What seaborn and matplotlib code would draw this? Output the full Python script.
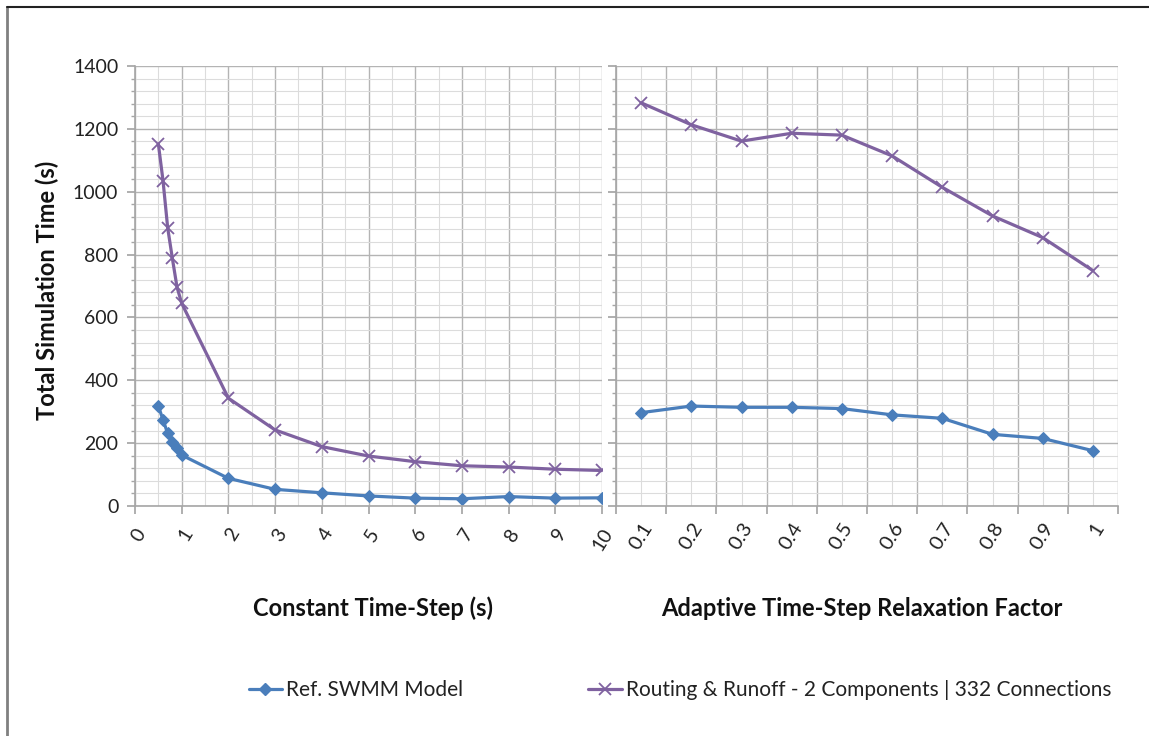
import numpy as np
import pandas as pd
import matplotlib
matplotlib.use('Agg')
import matplotlib.pyplot as plt
from matplotlib.lines import Line2D
from matplotlib.ticker import MultipleLocator
import seaborn as sns

# constant time-step panel
const_dt = [0.5, 0.6, 0.7, 0.8, 0.9, 1, 2, 3, 4, 5, 6, 7, 8, 9, 10]
ref_const = [318, 274, 231, 205, 183, 162, 88, 53, 42, 32, 25, 23, 30, 25, 26]
rr_const = [1152, 1035, 885, 788, 696, 645, 343, 242, 189, 159, 141, 128, 124, 117, 113]

# adaptive time-step panel
relax = ['0.1', '0.2', '0.3', '0.4', '0.5', '0.6', '0.7', '0.8', '0.9', '1']
ref_adapt = [297, 318, 314, 314, 310, 290, 279, 228, 215, 176]
rr_adapt = [1283, 1213, 1161, 1186, 1180, 1114, 1014, 923, 854, 749]

ref_name = 'Ref. SWMM Model'
rr_name = 'Routing & Runoff - 2 Components | 332 Connections'
blue = '#4a7ebb'
purple = '#7f62a0'

sns.set_theme(style='white')
plt.rcParams['font.family'] = ['Lato', 'DejaVu Sans']

W, H = 1149, 736
fig = plt.figure(figsize=(W / 100, H / 100), dpi=100)
ax1 = fig.add_axes([135 / W, 1 - 506 / H, 467 / W, 440 / H])
ax2 = fig.add_axes([616 / W, 1 - 506 / H, 502 / W, 440 / H], sharey=ax1)

df_const = pd.DataFrame({'dt': const_dt, 'ref': ref_const, 'rr': rr_const})
df_adapt = pd.DataFrame({'pos': np.arange(len(relax)), 'ref': ref_adapt, 'rr': rr_adapt})

sns.lineplot(data=df_const, x='dt', y='ref', ax=ax1, color=blue, marker='D',
             markeredgecolor=blue, markersize=6, linewidth=2.3)
sns.lineplot(data=df_const, x='dt', y='rr', ax=ax1, color=purple, marker='x',
             markeredgecolor=purple, markersize=8, markeredgewidth=1.3, linewidth=2.3)
sns.lineplot(data=df_adapt, x='pos', y='ref', ax=ax2, color=blue, marker='D',
             markeredgecolor=blue, markersize=6, linewidth=2.3)
sns.lineplot(data=df_adapt, x='pos', y='rr', ax=ax2, color=purple, marker='x',
             markeredgecolor=purple, markersize=8, markeredgewidth=1.3, linewidth=2.3)

major_c = '#b4b4b4'
minor_c = '#dcdcdc'
tick_c = '#222222'

for ax in (ax1, ax2):
    ax.set_ylim(0, 1400)
    ax.yaxis.set_major_locator(MultipleLocator(200))
    ax.yaxis.set_minor_locator(MultipleLocator(40))
    ax.set_xlabel('')
    ax.set_ylabel('')
    for s in ('top', 'right'):
        ax.spines[s].set_visible(False)
    for s in ('left', 'bottom'):
        ax.spines[s].set_color('#a6a6a6')
        ax.spines[s].set_linewidth(1.2)
    ax.grid(True, which='major', color=major_c, linewidth=1.0)
    ax.grid(True, which='minor', color=minor_c, linewidth=0.8)
    ax.set_axisbelow(True)
    ax.tick_params(axis='y', which='major', length=6, color='#a6a6a6', left=True)
    ax.tick_params(axis='y', which='minor', length=3, color='#a6a6a6', left=True)

# left panel axis
ax1.set_xlim(0, 10)
ax1.xaxis.set_major_locator(MultipleLocator(1))
ax1.xaxis.set_minor_locator(MultipleLocator(0.5))
ax1.tick_params(axis='x', which='major', length=6, color='#a6a6a6', bottom=True,
                labelsize=14, labelcolor=tick_c, pad=8)
ax1.tick_params(axis='y', which='major', labelsize=14, labelcolor=tick_c, pad=6)
for lab in ax1.get_xticklabels():
    lab.set_rotation(58)
    lab.set_ha('right')
    lab.set_va('top')
    lab.set_rotation_mode('anchor')

# right panel: categories between boundary gridlines
ax2.set_xlim(-0.5, len(relax) - 0.5)
ax2.set_xticks(np.arange(-0.5, len(relax), 1.0))
ax2.set_xticklabels([])
ax2.set_xticks(np.arange(len(relax)), labels=relax, minor=True)
ax2.tick_params(axis='x', which='major', length=6, color='#a6a6a6', bottom=True)
ax2.tick_params(axis='x', which='minor', length=0, labelsize=14.5, labelcolor=tick_c, pad=10)
ax2.tick_params(axis='y', which='both', labelleft=False)
for lab in ax2.get_xticklabels(minor=True):
    lab.set_rotation(58)
    lab.set_ha('right')
    lab.set_va('top')
    lab.set_rotation_mode('anchor')

fig.text(373 / W, 1 - 608 / H, 'Constant Time-Step (s)', ha='center', va='center',
         fontsize=17, fontweight='bold', color='#111111')
fig.text(862 / W, 1 - 608 / H, 'Adaptive Time-Step Relaxation Factor', ha='center',
         va='center', fontsize=17, fontweight='bold', color='#111111')
fig.text(47 / W, 1 - 290 / H, 'Total Simulation Time (s)', ha='center', va='center',
         rotation=90, fontsize=17, fontweight='bold', color='#111111')

handles = [
    Line2D([], [], color=blue, marker='D', markersize=6, linewidth=2.3, label=ref_name),
    Line2D([], [], color=purple, marker='x', markersize=8, markeredgewidth=1.3,
           linewidth=2.3, label=rr_name),
]
fig.legend(handles=handles, loc='center', bbox_to_anchor=(680 / W, 1 - 690 / H),
           ncol=2, frameon=False, fontsize=15, handlelength=1.6, handletextpad=0.2,
           columnspacing=6.0, labelcolor='#222222')

# outer chart border (left and top edges only)
fig.add_artist(Line2D([7 / W, 7 / W], [0, 1 - 7 / H], color='#808080', linewidth=2,
                      transform=fig.transFigure))
fig.add_artist(Line2D([7 / W, 1], [1 - 7 / H, 1 - 7 / H], color='#222222', linewidth=1.5,
                      transform=fig.transFigure))

fig.savefig('out.png', dpi=100)
